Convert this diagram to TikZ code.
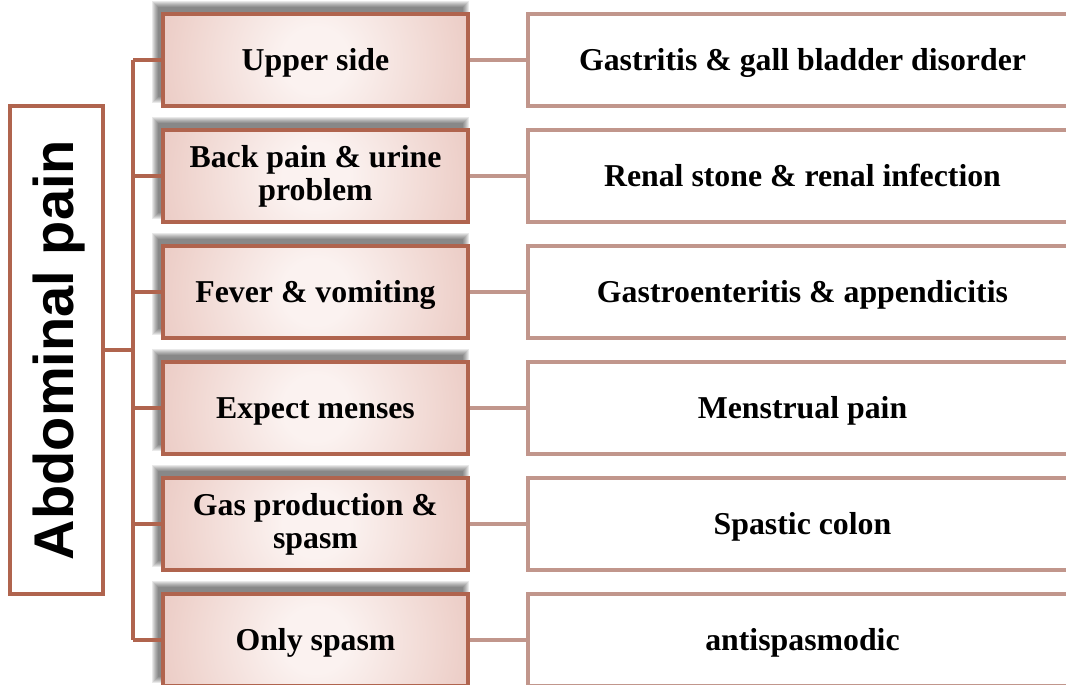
\documentclass[tikz,border=0pt]{standalone}
\usepackage{fontspec}
\setmainfont{Liberation Serif}
\newfontfamily\titlesans{Liberation Sans}
\definecolor{brownline}{HTML}{B0644E}
\definecolor{lightline}{HTML}{C1968C}
\definecolor{pkc}{HTML}{FBF2F0}
\definecolor{pkm}{HTML}{EFD4CE}
\definecolor{pke}{HTML}{D8A39A}
\pgfdeclareradialshading{pinkglow}{\pgfpointorigin}{color(0bp)=(pkc);color(5bp)=(pkc);color(20bp)=(pkm);color(45bp)=(pke);color(50bp)=(pke)}
\tikzset{
  midbox/.style={draw=brownline,line width=3.2pt,minimum width=305pt,minimum height=92pt,inner sep=0pt,align=center,
    font=\bfseries\fontsize{31.8}{33}\selectfont},
  rightbox/.style={draw=lightline,line width=3.2pt,minimum width=549pt,minimum height=92pt,inner sep=0pt,align=center,
    font=\bfseries\fontsize{31.8}{33}\selectfont},
  oneline/.style={text height=28.5pt,text depth=7pt},
  rootbox/.style={draw=brownline,line width=3.2pt,minimum width=93pt,minimum height=488pt,inner sep=0pt},
  trunk/.style={draw=brownline,line width=3.2pt},
  twig/.style={draw=lightline,line width=3.2pt},
}
\begin{document}
\begin{tikzpicture}[x=1pt,y=-1pt]
\useasboundingbox (0,0) rectangle (1066,685);
\clip (0,0) rectangle (1066,685);
% shadows and shading for middle boxes
\foreach \i in {1,...,6}{
  \pgfmathsetmacro{\cy}{60+116*(\i-1)}
  \foreach \b in {5,4,3,2,1,0,-1}{
    \fill[black,opacity=0.085] (163-6-\b,\cy-46-8-\b) rectangle (468-4+\b,\cy+46-8+\b);
  }
  \fill[white] (163,\cy-46) rectangle (468,\cy+46);
  \begin{scope}
    \clip (163,\cy-46) rectangle (468,\cy+46);
    \shade[shading=pinkglow] (315.5,\cy) circle (165);
  \end{scope}
}
% root
\node[rootbox] (root) at (56.5,350) {};
\node[rotate=90,font=\titlesans\bfseries\fontsize{56}{60}\selectfont,anchor=base] at (73,350) {Abdominal pain};
% middle boxes
\node[midbox,oneline] (m1) at (315.5,60)  {Upper side};
\node[midbox] (m2) at (315.5,176) {Back pain \& urine\\problem};
\node[midbox,oneline] (m3) at (315.5,292) {Fever \& vomiting};
\node[midbox,oneline] (m4) at (315.5,408) {Expect menses};
\node[midbox] (m5) at (315.5,524) {Gas production \&\\spasm};
\node[midbox,oneline] (m6) at (315.5,640) {Only spasm};
% right boxes
\node[rightbox,oneline] (r1) at (802.5,60)  {Gastritis \& gall bladder disorder};
\node[rightbox,oneline] (r2) at (802.5,176) {Renal stone \& renal infection};
\node[rightbox,oneline] (r3) at (802.5,292) {Gastroenteritis \& appendicitis};
\node[rightbox,oneline] (r4) at (802.5,408) {Menstrual pain};
\node[rightbox,oneline] (r5) at (802.5,524) {Spastic colon};
\node[rightbox,oneline] (r6) at (802.5,640) {antispasmodic};
% trunk
\foreach \i in {1,...,6}{
  \coordinate (t\i) at (133,60+116*\i-116);
}
\draw[trunk] (t1) -- (t6);
\draw[trunk] (root.east) -- (root.east -| t1);
\foreach \i in {1,...,6}{
  \draw[trunk] (t\i) -- (m\i.west);
  \draw[twig] (m\i.east) -- (r\i.west);
}
\end{tikzpicture}
\end{document}
